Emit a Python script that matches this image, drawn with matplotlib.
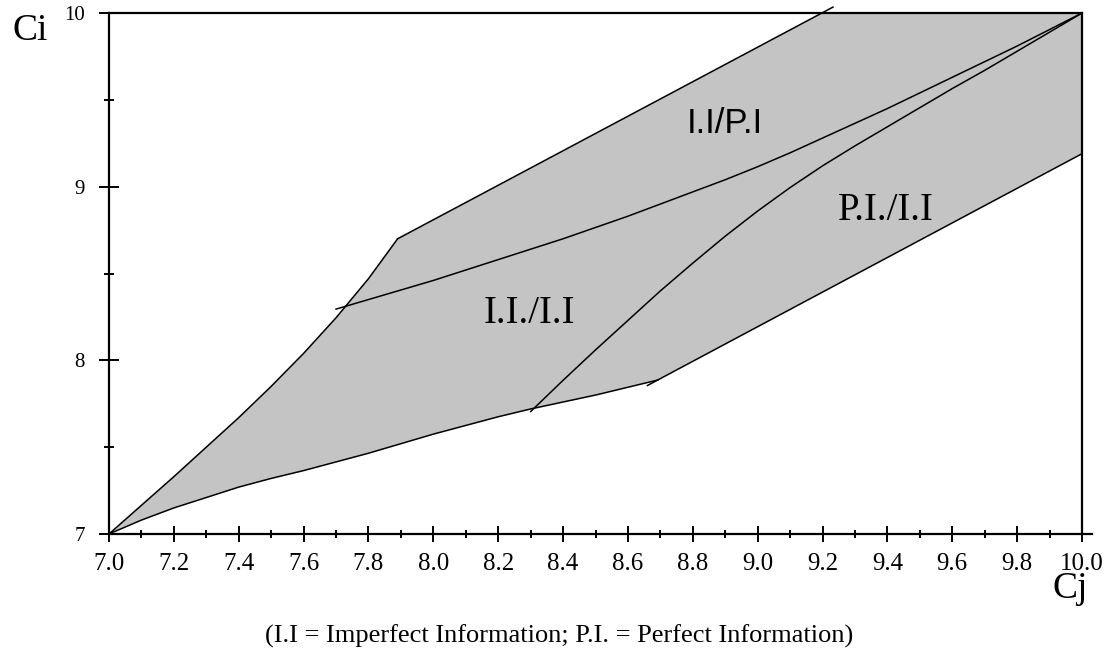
from matplotlib import pyplot as plt
from matplotlib.ticker import MultipleLocator, FormatStrFormatter
import numpy as np

# boundary and dividing curves (Cj on x, Ci on y)
upper_left_x = [7.0, 7.1, 7.2, 7.3, 7.4, 7.5, 7.6, 7.7, 7.8, 7.89]
upper_left_y = [7.0, 7.165, 7.33, 7.5, 7.67, 7.85, 8.04, 8.245, 8.47, 8.70]
upper_x = [7.89, 9.232]
upper_y = [8.70, 10.034]
lower_x = [7.0, 7.1, 7.2, 7.3, 7.4, 7.5, 7.6, 7.7, 7.8, 7.9, 8.0, 8.1, 8.2, 8.3, 8.4, 8.5, 8.6, 8.693]
lower_y = [7.0, 7.08, 7.15, 7.21, 7.27, 7.32, 7.365, 7.415, 7.465, 7.52, 7.575, 7.625, 7.675,
           7.72, 7.76, 7.80, 7.845, 7.887]
right_x = [8.66, 10.0]
right_y = [7.855, 9.19]
middle_x = [7.70, 7.80, 7.90, 8.00, 8.10, 8.20, 8.30, 8.40, 8.50, 8.60, 8.70, 8.80,
            8.90, 9.00, 9.10, 9.20, 9.30, 9.40, 9.50, 9.60, 9.70, 9.80, 9.90, 10.0]
middle_y = [8.295, 8.35, 8.405, 8.46, 8.52, 8.58, 8.64, 8.70, 8.765, 8.83, 8.90, 8.97,
            9.04, 9.115, 9.195, 9.28, 9.365, 9.45, 9.54, 9.63, 9.72, 9.81, 9.905, 10.0]
diag_x = [8.30, 8.40, 8.50, 8.60, 8.70, 8.80, 8.90, 9.00, 9.10, 9.20, 9.30, 9.40,
          9.50, 9.60, 9.70, 9.80, 9.90, 10.0]
diag_y = [7.705, 7.885, 8.06, 8.23, 8.40, 8.56, 8.715, 8.86, 8.995, 9.12, 9.235, 9.345,
          9.455, 9.565, 9.67, 9.78, 9.89, 10.0]

region_labels = ['I.I/P.I', 'P.I./I.I', 'I.I./I.I']
region_x = [8.898, 9.394, 8.297]
region_y = [9.363, 8.865, 8.267]
region_fonts = ['Liberation Sans', 'Liberation Serif', 'Liberation Serif']

caption = '(I.I = Imperfect Information; P.I. = Perfect Information)'

plt.rcParams['font.family'] = ['Liberation Serif', 'DejaVu Serif']

fig = plt.figure(figsize=(11.13, 6.54), dpi=100)
ax = fig.add_axes([0.0979, 0.1835, 0.8743, 0.7966])
ax.set_xlim(7, 10)
ax.set_ylim(7, 10)

# shaded feasible region
top_x = np.interp(10, upper_y, upper_x)
fill_x = upper_left_x + [top_x, 10, 10] + lower_x[::-1]
fill_y = upper_left_y + [10, 10, right_y[-1]] + lower_y[::-1]
ax.fill(fill_x, fill_y, color='#c4c4c4', lw=0, zorder=1)

lk = dict(color='black', lw=1.1, zorder=3, solid_joinstyle='round')
ax.plot(upper_left_x, upper_left_y, **lk)
ax.plot(upper_x, upper_y, clip_on=False, **lk)
ax.plot(lower_x, lower_y, **lk)
ax.plot(right_x, right_y, **lk)
ax.plot(middle_x, middle_y, **lk)
ax.plot(diag_x, diag_y, **lk)
ax.plot([10, 10.03], [7, 7], color='black', lw=1.6, clip_on=False)

for lab, x, y, fam in zip(region_labels, region_x, region_y, region_fonts):
    size = 25 if fam == 'Liberation Sans' else 28
    ax.text(x, y, lab, ha='center', va='center', fontsize=size, family=fam, zorder=4)

for s in ax.spines.values():
    s.set_linewidth(1.6)

ax.xaxis.set_major_locator(MultipleLocator(0.2))
ax.xaxis.set_minor_locator(MultipleLocator(0.1))
ax.xaxis.set_major_formatter(FormatStrFormatter('%.1f'))
ax.yaxis.set_major_locator(MultipleLocator(1))
ax.yaxis.set_minor_locator(MultipleLocator(0.5))
ax.yaxis.set_major_formatter(FormatStrFormatter('%d'))

ax.tick_params(axis='x', which='major', direction='inout', length=11, width=1.4, labelsize=18, pad=8)
ax.tick_params(axis='x', which='minor', direction='inout', length=6, width=1.4)
ax.tick_params(axis='y', which='major', direction='inout', length=15, width=1.4, labelsize=15, pad=10)
ax.tick_params(axis='y', which='minor', direction='inout', length=7, width=1.4)

fig.text(0.011, 0.939, 'Ci', fontsize=27, ha='left', va='baseline')
fig.text(0.946, 0.085, 'Cj', fontsize=27, ha='left', va='baseline')
fig.text(0.502, 0.027, caption, fontsize=19, ha='center', va='center')

plt.savefig('out.png', dpi=100)
